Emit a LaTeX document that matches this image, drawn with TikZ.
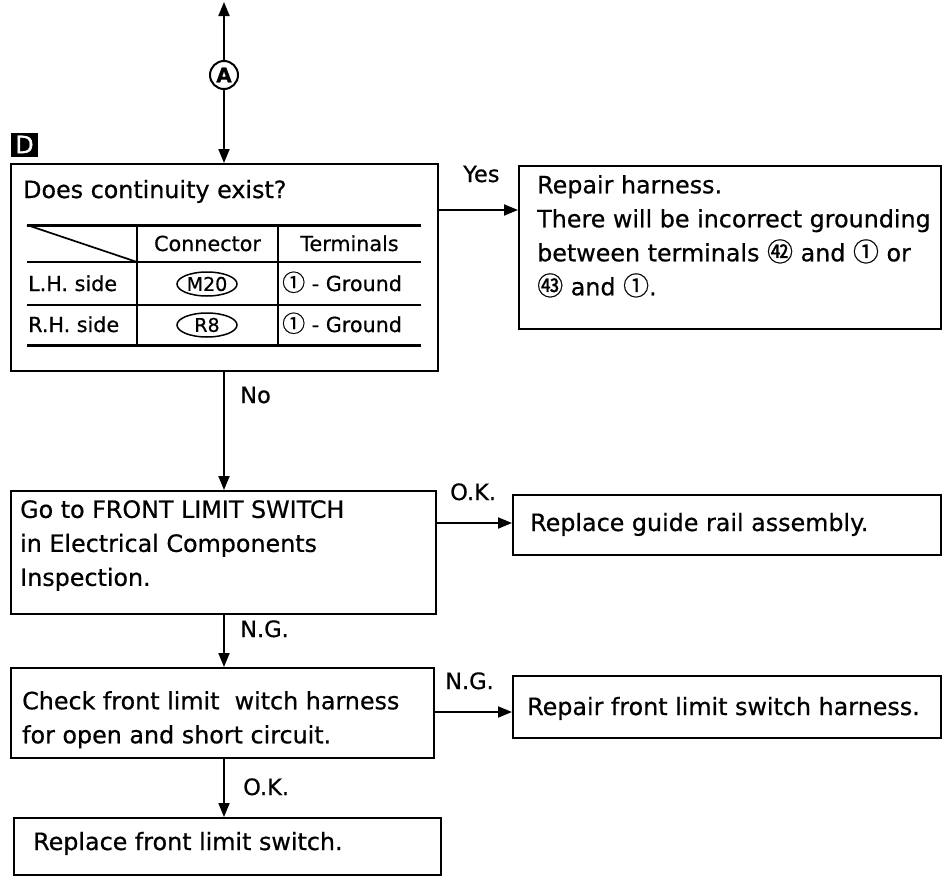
\documentclass[tikz,border=0pt]{standalone}
\usepackage{fontspec}
\setmainfont{DejaVu Sans}[FakeBold=0.6]
\newfontfamily\cjkf{Noto Sans CJK SC}[FakeBold=0.6]
\usetikzlibrary{arrows.meta,shapes.geometric}
\newcommand\cnum[1]{{\cjkf\fontsize{26}{26}\selectfont #1}}
\newcommand\cnumsm[1]{{\cjkf\fontsize{23}{23}\selectfont #1}}
\begin{document}
\begin{tikzpicture}[x=1pt,y=-1pt,
  box/.style={draw,line width=2pt,rectangle,inner sep=0pt,anchor=north west},
  txt/.style={anchor=north west,inner sep=0pt,align=left,font=\fontsize{23.8}{34}\selectfont},
  onel/.style={anchor=base west,inner sep=0pt,font=\fontsize{23.8}{34}\selectfont},
  lbl/.style={anchor=base west,inner sep=0pt,font=\fontsize{22.5}{24}\selectfont},
  arr/.style={line width=2pt,-{Triangle[length=14pt,width=11pt]}},
  tbl/.style={font=\fontsize{20.7}{24}\selectfont,inner sep=0pt},
  thick rule/.style={line width=3pt},
  thin rule/.style={line width=1.7pt},
  oval/.style={ellipse,draw,line width=1.5pt,minimum width=60pt,minimum height=24pt,inner sep=0pt,font=\fontsize{19}{19}\selectfont}
]
\useasboundingbox (0,0) rectangle (943,878);

% connector A
\node[circle,draw,line width=2pt,minimum size=28pt,inner sep=0pt,font=\fontsize{20}{20}\bfseries] (a) at (224,75) {A};
\coordinate (top) at (224,2);
\draw[arr] (a.north) -- (top);

% D marker
\node[fill=black,text=white,minimum width=27pt,minimum height=24pt,inner sep=0pt,font=\fontsize{24}{24}\selectfont] (dm) at (24.5,144.5) {D};

% boxes
\node[box,minimum width=427pt,minimum height=207pt] (b1) at (10,163) {};
\node[box,minimum width=422pt,minimum height=163pt] (b2) at (518,165) {};
\node[box,minimum width=425pt,minimum height=123pt] (b3) at (10,490) {};
\node[box,minimum width=428pt,minimum height=60pt] (b4) at (512,494) {};
\node[box,minimum width=423pt,minimum height=90pt] (b5) at (10,667) {};
\node[box,minimum width=428pt,minimum height=62pt] (b6) at (512,675) {};
\node[box,minimum width=427pt,minimum height=57pt] (b7) at (13,817) {};

% texts
\node[onel] (t1) at (23,198) {Does continuity exist?};
\node[txt] (t2) at (537,175) {Repair harness.\\There will be incorrect grounding\\between terminals \cnum{㊷} and \cnum{①} or\\\cnum{㊸} and \cnum{①}.};
\node[txt] (t3) at (20,500) {Go to FRONT LIMIT SWITCH\\in Electrical Components\\Inspection.};
\node[onel] (t4) at (530,531) {Replace guide rail assembly.};
\node[txt] (t5) at (22,691) {Check front limit\ \ witch harness\\for open and short circuit.};
\node[onel] (t6) at (527,715) {Repair front limit switch harness.};
\node[onel] (t7) at (33,850) {Replace front limit switch.};

% table
\draw[thick rule] (27,225) -- (421,225);
\draw[thin rule] (27,262) -- (421,262);
\draw[thin rule] (27,305) -- (421,305);
\draw[thick rule] (27,345) -- (421,345);
\draw[thin rule] (137,225) -- (137,345);
\draw[thin rule] (278,225) -- (278,345);
\draw[thin rule] (27,225) -- (137,262);
\node[tbl,anchor=base] (hc) at (207.5,251) {Connector};
\node[tbl,anchor=base] (ht) at (349.5,251) {Terminals};
\node[tbl,anchor=base west] (lh) at (28,291) {L.H. side};
\node[tbl,anchor=base west] (rh) at (28,332) {R.H. side};
\node[oval] (m20) at (207,284) {M20};
\node[oval] (r8) at (207,325) {R8};
\node[tbl,anchor=base west] (g1) at (282,291) {\cnumsm{①} - Ground};
\node[tbl,anchor=base west] (g2) at (282,332) {\cnumsm{①} - Ground};

% connectors
\draw[arr] (a.south) -- (a.south |- b1.north);
\path (b1.north east) ++(0,47) coordinate (yesst);
\draw[arr] (yesst) -- (yesst -| b2.west);
\draw[arr] (a |- b1.south) -- (a |- b3.north);
\path (b3.north east) ++(0,33) coordinate (okst);
\draw[arr] (okst) -- (okst -| b4.west);
\draw[arr] (a |- b3.south) -- (a |- b5.north);
\path (b5.north east) ++(0,45) coordinate (ngst);
\draw[arr] (ngst) -- (ngst -| b6.west);
\draw[arr] (a |- b5.south) -- (a |- b7.north);

% labels
\node[lbl] (lyes) at (463,182) {Yes};
\node[lbl] (lno) at (240,403) {No};
\node[lbl] (lok1) at (450,500) {O.K.};
\node[lbl] (lng1) at (240,637) {N.G.};
\node[lbl] (lng2) at (445,689) {N.G.};
\node[lbl] (lok2) at (243,795) {O.K.};
\end{tikzpicture}
\end{document}
